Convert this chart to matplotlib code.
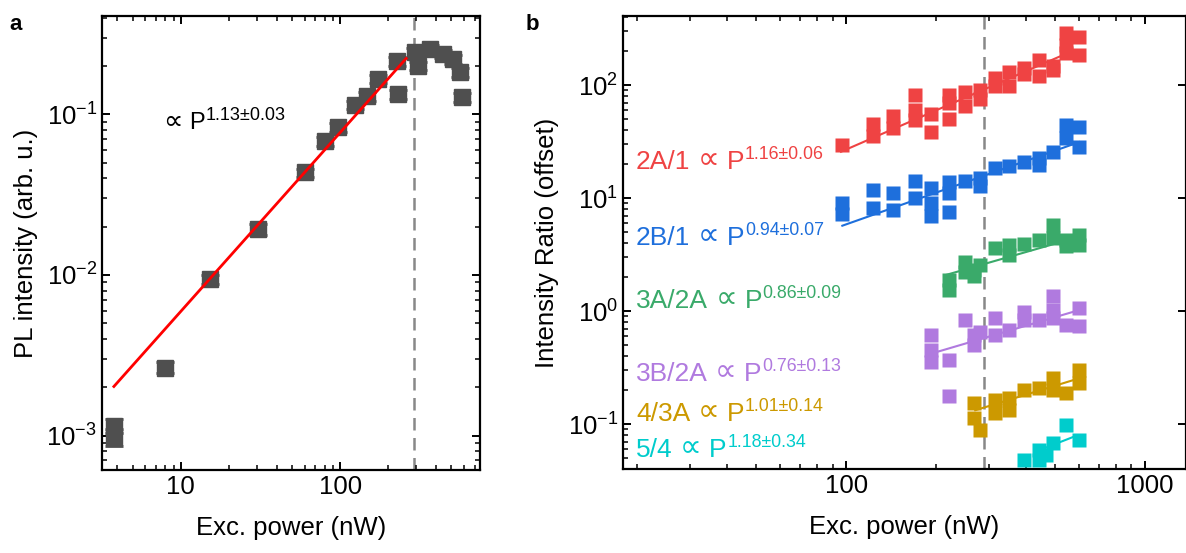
import matplotlib
matplotlib.use("Agg")
import matplotlib.pyplot as plt
from matplotlib.ticker import LogLocator, NullFormatter

plt.rcParams["font.family"] = ["Liberation Sans", "DejaVu Sans"]
plt.rcParams["mathtext.fontset"] = "custom"
plt.rcParams["mathtext.rm"] = "Liberation Sans"
plt.rcParams["mathtext.it"] = "Liberation Sans:italic"
plt.rcParams["mathtext.bf"] = "Liberation Sans:bold"
plt.rcParams["axes.unicode_minus"] = False

# ---- panel a: PL intensity vs power ----
pl_power = [3.8, 3.8, 8.0, 15.3, 30.5, 60, 80, 97, 124, 148, 174, 231, 228, 295, 309, 367, 443, 512, 566, 583]
pl_int = [1.15e-3, 0.98e-3, 2.65e-3, 9.4e-3, 0.0192, 0.0435, 0.068, 0.083, 0.115, 0.13, 0.166,
          0.133, 0.214, 0.243, 0.20, 0.254, 0.237, 0.22, 0.183, 0.128]
pl_err = [0.12e-3, 0.12e-3, 0.2e-3, 0.6e-3, 1.5e-3, 2.5e-3, 4e-3, 5e-3, 7e-3, 8e-3, 0.01,
          8e-3, 0.013, 0.015, 0.012, 0.015, 0.014, 0.013, 0.011, 8e-3]
fit_a_x = [3.8, 260]
fit_a_y = [2.02e-3, 0.223]
fit_a_exp = "1.13±0.03"
dash_power = 290

# ---- panel b: intensity ratios (offset) ----
r2a1_x = [97, 123, 123, 143, 143, 170, 170, 170, 192, 192, 220, 220, 220, 250, 250, 281, 281,
          314, 314, 351, 351, 393, 393, 440, 440, 490, 490, 543, 543, 543, 602, 602]
r2a1_y = [29.4, 45, 35.4, 53, 41.7, 81.6, 60, 49, 55, 38.4, 81.6, 69, 50, 86.7, 65, 90, 75,
          115, 98, 130, 98, 141, 125, 166, 120, 147, 136, 288, 226, 192, 266, 184]
r2b1_x = [97, 97, 123, 123, 143, 143, 170, 170, 192, 192, 192, 220, 220, 220, 250, 281, 281,
          314, 351, 393, 440, 440, 490, 543, 543, 602, 602]
r2b1_y = [9.0, 7.2, 11.7, 8.1, 11.0, 7.8, 14.3, 10.1, 12.2, 9.0, 6.9, 13.8, 11.2, 7.5, 14.1, 15.2, 12.9,
          18.3, 19.1, 20.7, 22.5, 19.5, 25.4, 44, 33.7, 42.3, 28.1]
r3a2a_x = [220, 220, 250, 250, 267, 267, 281, 314, 351, 351, 393, 440, 490, 490, 543, 543, 602, 602]
r3a2a_y = [1.9, 1.55, 2.72, 2.21, 2.31, 2.04, 2.55, 3.61, 3.84, 3.13, 3.92, 4.25, 5.77, 4.43, 4.25, 3.76, 4.71, 3.84]
r3b2a_x = [192, 192, 192, 220, 220, 250, 267, 267, 281, 314, 314, 351, 393, 393, 440, 490, 490, 490, 543, 602, 602]
r3b2a_y = [0.61, 0.45, 0.354, 0.37, 0.177, 0.83, 0.61, 0.5, 0.65, 0.87, 0.61, 0.68, 0.98, 0.83, 0.83,
           1.36, 1.02, 0.87, 0.75, 1.06, 0.74]
r43a_x = [267, 267, 281, 314, 314, 351, 351, 393, 440, 490, 490, 543, 602, 602]
r43a_y = [0.153, 0.113, 0.0885, 0.163, 0.125, 0.17, 0.133, 0.2, 0.208, 0.255, 0.2, 0.188, 0.3, 0.23]
r54_x = [393, 440, 440, 466, 490, 543, 602]
r54_y = [0.048, 0.059, 0.048, 0.053, 0.068, 0.098, 0.072]

fit_b = {
    "2A/1": ([96, 516], [25.7, 178]),
    "2B/1": ([97, 602], [5.7, 31.3]),
    "3A/2A": ([214, 602], [2.08, 4.55]),
    "3B/2A": ([201, 573], [0.436, 0.985]),
    "4/3A": ([270, 573], [0.133, 0.245]),
    "5/4": ([443, 573], [0.059, 0.077]),
}
labels_b = ["2A/1", "2B/1", "3A/2A", "3B/2A", "4/3A", "5/4"]
exps_b = ["1.16±0.06", "0.94±0.07", "0.86±0.09", "0.76±0.13", "1.01±0.14", "1.18±0.34"]
colors_b = ["#EF4343", "#1E6FDC", "#3AAA6A", "#B07ADF", "#CC9900", "#00CCCC"]
series_b = [(r2a1_x, r2a1_y), (r2b1_x, r2b1_y), (r3a2a_x, r3a2a_y),
            (r3b2a_x, r3b2a_y), (r43a_x, r43a_y), (r54_x, r54_y)]
label_ypos = [0.662, 0.494, 0.355, 0.194, 0.106, 0.026]

GRAY = "#4F4F4F"
FS = 18.5


def style_ax(ax, right_minor=True):
    ax.set_xscale("log")
    ax.set_yscale("log")
    for s in ax.spines.values():
        s.set_linewidth(1.6)
    ax.tick_params(which="both", direction="in", top=True, right=True, labelsize=FS)
    ax.tick_params(which="major", length=6, width=1.4)
    ax.tick_params(which="minor", length=3.5, width=1.1)
    if not right_minor:
        ax.tick_params(which="minor", right=False)
    ax.xaxis.set_minor_locator(LogLocator(base=10, subs=range(2, 10), numticks=20))
    ax.yaxis.set_minor_locator(LogLocator(base=10, subs=range(2, 10), numticks=20))
    ax.xaxis.set_minor_formatter(NullFormatter())
    ax.yaxis.set_minor_formatter(NullFormatter())


def power_label(ax, x, y, name, exp, color, size, sup_size):
    # "name ∝ P^exp" built from pieces so the ∝ sign can come from DejaVu Sans
    if name:
        t0 = ax.text(x, y, name, transform=ax.transAxes, color=color, fontsize=size,
                     va="baseline", ha="left")
        prop = ax.annotate("∝", xy=(1, 0), xycoords=(t0, t0), xytext=(size * 0.28, 0),
                           textcoords="offset points", color=color, fontsize=size * 1.15,
                           family="DejaVu Sans", va="bottom", ha="left")
        base = t0
    else:
        prop = ax.text(x, y, "∝", transform=ax.transAxes, color=color, fontsize=size * 1.15,
                       family="DejaVu Sans", va="baseline", ha="left")
        base = ax.text(x, y, " ", transform=ax.transAxes, fontsize=size, va="baseline")
    p = ax.annotate("P", xy=(1, 0), xycoords=(prop, base), xytext=(size * 0.28, 0),
                    textcoords="offset points", color=color, fontsize=size,
                    va="bottom", ha="left")
    ax.annotate(exp, xy=(1, 0), xycoords=(p, p), xytext=(0.5, size * 0.42),
                textcoords="offset points", color=color, fontsize=sup_size,
                va="bottom", ha="left")


fig = plt.figure(figsize=(11.86, 5.53), dpi=100)

# panel a
ax1 = fig.add_axes([0.0860, 0.1501, 0.3187, 0.8210])
style_ax(ax1)
ax1.errorbar(pl_power, pl_int, yerr=pl_err, fmt="s", color=GRAY, ms=11, capsize=6.5,
             capthick=2, elinewidth=1.5, zorder=3)
ax1.plot(fit_a_x, fit_a_y, color="#FF0000", lw=2, zorder=4)
ax1.axvline(dash_power, color="#888888", lw=1.8, ls=(0, (5, 3)), zorder=1)
ax1.set_xlim(3.2, 756)
ax1.set_ylim(6.1e-4, 0.41)
ax1.set_xticks([10, 100])
ax1.set_xticklabels(["10", "100"])
ax1.set_xlabel("Exc. power (nW)", fontsize=FS, labelpad=12)
ax1.set_ylabel("PL intensity (arb. u.)", fontsize=FS, labelpad=6)
power_label(ax1, 0.161, 0.751, "", fit_a_exp, "black", 17, 13)
fig.text(0.008, 0.975, "a", fontsize=16, fontweight="bold", va="top")

# panel b
ax2 = fig.add_axes([0.5253, 0.1519, 0.4747, 0.8192])
style_ax(ax2, right_minor=False)
for (xs, ys), name, ex, c, ly in zip(series_b, labels_b, exps_b, colors_b, label_ypos):
    ax2.plot(xs, ys, "s", color=c, ms=9.5, mec="none", zorder=3)
    fx, fy = fit_b[name]
    ax2.plot(fx, fy, color=c, lw=1.5, zorder=4)
    power_label(ax2, 0.023, ly, name, ex, c, 19, 12.8)
ax2.axvline(dash_power, color="#888888", lw=1.8, ls=(0, (5, 3)), zorder=1)
ax2.set_xlim(17.9, 1370)
ax2.set_ylim(0.0402, 408)
ax2.set_xticks([100, 1000])
ax2.set_xticklabels(["100", "1000"])
ax2.set_xlabel("Exc. power (nW)", fontsize=FS, labelpad=12)
ax2.set_ylabel("Intensity Ratio (offset)", fontsize=FS, labelpad=6)
fig.text(0.443, 0.975, "b", fontsize=16, fontweight="bold", va="top")

fig.savefig("out.png", dpi=100)
